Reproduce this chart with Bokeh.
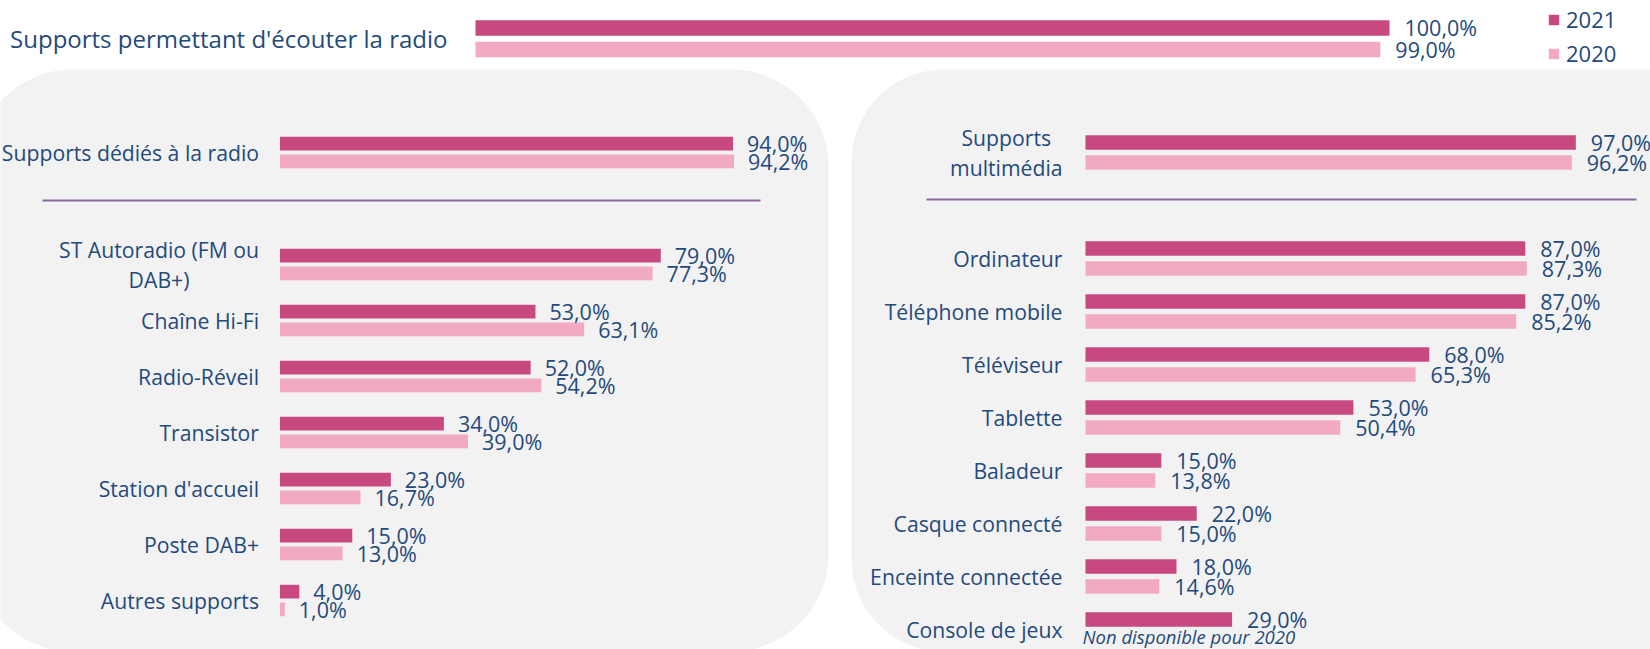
import math
from bokeh.plotting import figure
from bokeh.models import Range1d, ColumnDataSource, BoxAnnotation, Legend, LegendItem
from bokeh.core.properties import value
from bokeh.transform import dodge
from bokeh.embed import file_html
from bokeh.resources import INLINE

# ---------------- data ----------------
years = ["2021", "2020"]

top_category = ["Supports permettant d'écouter la radio"]
top_2021 = [100.0]
top_2020 = [99.0]

left_categories = [
    "Supports dédiés à la radio",
    "ST Autoradio (FM ou\nDAB+)",
    "Chaîne Hi-Fi",
    "Radio-Réveil",
    "Transistor",
    "Station d'accueil",
    "Poste DAB+",
    "Autres supports",
]
left_2021 = [94.0, 79.0, 53.0, 52.0, 34.0, 23.0, 15.0, 4.0]
left_2020 = [94.2, 77.3, 63.1, 54.2, 39.0, 16.7, 13.0, 1.0]

right_categories = [
    "Supports\nmultimédia",
    "Ordinateur",
    "Téléphone mobile",
    "Téléviseur",
    "Tablette",
    "Baladeur",
    "Casque connecté",
    "Enceinte connectée",
    "Console de jeux",
]
right_2021 = [97.0, 87.0, 87.0, 68.0, 53.0, 15.0, 22.0, 18.0, 29.0]
right_2020 = [96.2, 87.3, 85.2, 65.3, 50.4, 13.8, 15.0, 14.6, None]
missing_note = "Non disponible pour 2020"

# ---------------- style ----------------
C2021 = "#c8497f"
C2020 = "#f2a9c4"
TEXT = "#244a7c"
PANEL = "#f2f2f2"
SEP = "#8a6796"
FONT_NAME = "Open Sans"
FONT = value(FONT_NAME)
LABEL_SIZE = "21.5px"
CAT_SIZE = "21.2px"

W, H = 1650, 649


def x_range_for(x0_px, px_per_pct):
    start = -x0_px / px_per_pct
    return Range1d(start=start, end=start + W / px_per_pct)


def y_range_for(y0_px, px_per_slot):
    top = -y0_px / px_per_slot
    return Range1d(start=top + H / px_per_slot, end=top)


def fmt(v):
    if v is None or (isinstance(v, float) and math.isnan(v)):
        return ""
    return f"{v:.1f}".replace(".", ",") + "%"


# chart geometry (position of 0 %, px per %, first slot centre, px per slot)
TOP = dict(x0=475, k=9.14, y0=38.25, s=40.0)
LEFT = dict(x0=279.5, k=4.82, y0=152.0, s=56.0)
RIGHT = dict(x0=1085.0, k=5.055, y0=152.0, s=53.0)

p = figure(
    width=W, height=H,
    x_range=x_range_for(TOP["x0"], TOP["k"]),
    y_range=y_range_for(TOP["y0"], TOP["s"]),
    min_border=0, toolbar_location=None, output_backend="svg",
    x_axis_location=None, y_axis_location=None,
)
p.grid.visible = False
p.outline_line_color = None
p.background_fill_color = "white"
p.border_fill_color = "white"

p.extra_x_ranges = {"left": x_range_for(LEFT["x0"], LEFT["k"]),
                    "right": x_range_for(RIGHT["x0"], RIGHT["k"])}
p.extra_y_ranges = {"left": y_range_for(LEFT["y0"], LEFT["s"]),
                    "right": y_range_for(RIGHT["y0"], RIGHT["s"])}


def px2x(px, g):
    return (px - g["x0"]) / g["k"]


def px2y(py, g):
    return (py - g["y0"]) / g["s"]


# rounded background panels
p.add_layout(BoxAnnotation(
    left=px2x(-25, LEFT), right=px2x(828, LEFT),
    top=px2y(69, LEFT), bottom=px2y(651, LEFT),
    x_range_name="left", y_range_name="left",
    fill_color=PANEL, fill_alpha=1, line_color=None,
    border_radius=97, level="underlay"))
p.add_layout(BoxAnnotation(
    left=px2x(851, RIGHT), right=px2x(1760, RIGHT),
    top=px2y(69, RIGHT), bottom=px2y(651, RIGHT),
    x_range_name="right", y_range_name="right",
    fill_color=PANEL, fill_alpha=1, line_color=None,
    border_radius=92, level="underlay"))


def draw(cats, v21, v20, rng, off, h, cat_dx, val_dx, cat_size, sep=None):
    slots = [0] + [i + 1 for i in range(1, len(cats))] if sep else list(range(len(cats)))
    v20f = [float("nan") if v is None else v for v in v20]
    src = ColumnDataSource(dict(
        slot=slots, cat=cats, v21=v21, v20=v20f,
        lab21=[fmt(v) for v in v21], lab20=[fmt(v) for v in v20],
    ))
    kw = {}
    if rng is not None:
        kw = dict(x_range_name=rng, y_range_name=rng)
    r21 = p.hbar(y=dodge("slot", -off), left=0, right="v21", height=h,
                 fill_color=C2021, line_color=None, source=src, **kw)
    r20 = p.hbar(y=dodge("slot", off), left=0, right="v20", height=h,
                 fill_color=C2020, line_color=None, source=src, **kw)
    p.text(x="v21", y=dodge("slot", -off), text="lab21", x_offset=val_dx,
           text_align="left", text_baseline="middle", text_font=FONT,
           text_font_size=LABEL_SIZE, text_color=TEXT, source=src, **kw)
    p.text(x="v20", y=dodge("slot", off), text="lab20", x_offset=val_dx,
           text_align="left", text_baseline="middle", text_font=FONT,
           text_font_size=LABEL_SIZE, text_color=TEXT, source=src, **kw)
    p.text(x=0, y="slot", text="cat", x_offset=-cat_dx,
           anchor="center_right", text_align="center", text_baseline="middle",
           text_line_height=1.05, text_font=FONT, text_font_size=cat_size,
           text_color=TEXT, source=src, **kw)
    miss = [i for i, v in enumerate(v20) if v is None]
    if miss:
        msrc = ColumnDataSource(dict(slot=[slots[i] for i in miss],
                                     note=[missing_note] * len(miss)))
        p.text(x=0, y=dodge("slot", off), text="note", x_offset=-3, y_offset=-3,
               text_align="left", text_baseline="alphabetic", text_font=FONT,
               text_font_style="italic", text_font_size="18.5px",
               text_color=TEXT, source=msrc, **kw)
    if sep:
        p.segment(x0=sep[0], x1=sep[1], y0=sep[2], y1=sep[2],
                  line_color=SEP, line_width=2.2, **kw)
    return r21, r20


t21, t20 = draw(top_category, top_2021, top_2020, None,
                off=0.269, h=0.39, cat_dx=28, val_dx=15, cat_size="24px")
draw(left_categories, left_2021, left_2020, "left",
     off=0.158, h=0.245, cat_dx=21, val_dx=14, cat_size=CAT_SIZE,
     sep=(px2x(42, LEFT), px2x(760, LEFT), px2y(200, LEFT)))
draw(right_categories, right_2021, right_2020, "right",
     off=0.189, h=0.272, cat_dx=23, val_dx=15, cat_size=CAT_SIZE,
     sep=(px2x(926, RIGHT), px2x(1636, RIGHT), px2y(199, RIGHT)))

legend = Legend(
    items=[LegendItem(label=years[0], renderers=[t21]),
           LegendItem(label=years[1], renderers=[t20])],
    location=(1547, H - 68), orientation="vertical",
    glyph_width=13, glyph_height=13, label_standoff=6, spacing=4,
    label_text_font=FONT_NAME, label_text_font_size="22px", label_text_color=TEXT,
    padding=0, margin=0, background_fill_alpha=0, border_line_color=None,
)
p.add_layout(legend)

open("out.html", "w").write(file_html(p, INLINE))
